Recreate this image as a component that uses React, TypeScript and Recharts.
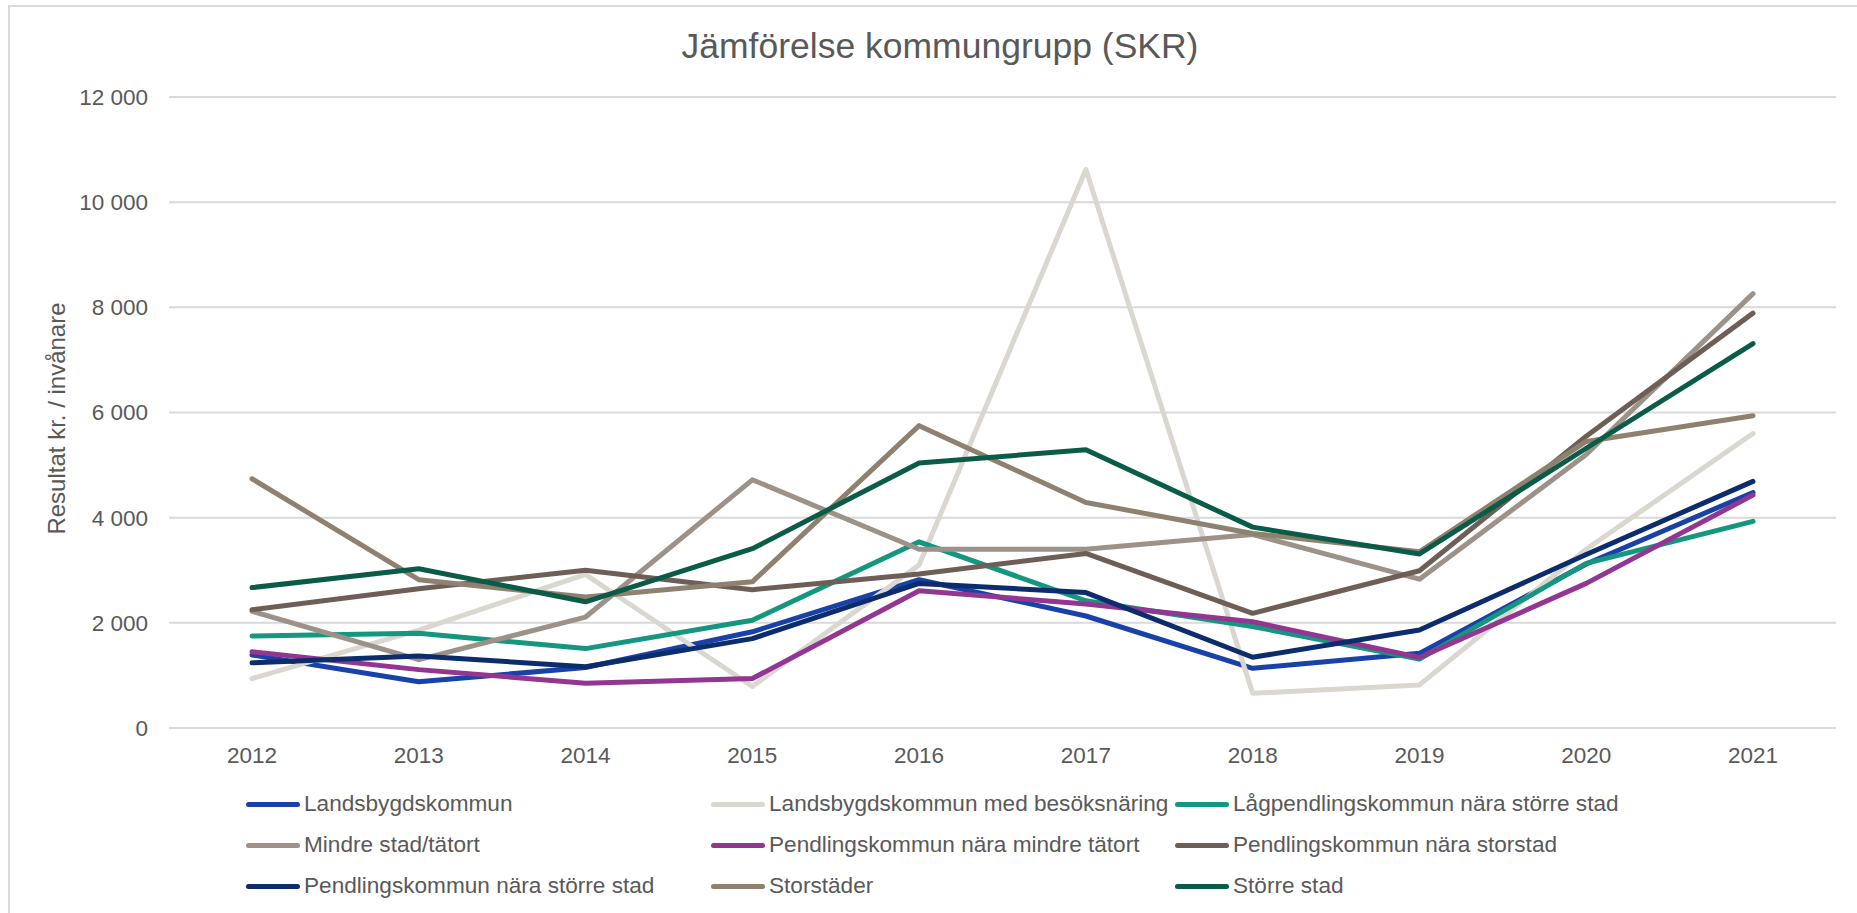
import { LineChart, Line, XAxis, YAxis, CartesianGrid, Legend } from "recharts";

const YEARS = ["2012", "2013", "2014", "2015", "2016", "2017", "2018", "2019", "2020", "2021"];

const LANDSBYGD = [1390, 880, 1150, 1830, 2820, 2130, 1135, 1420, 3120, 4480];
const LANDSBYGD_BESOK = [940, 1860, 2920, 790, 3100, 10620, 660, 820, 3400, 5600];
const LAGPENDLING = [1750, 1800, 1510, 2050, 3540, 2420, 1930, 1310, 3130, 3930];
const MINDRE_STAD = [2220, 1300, 2110, 4720, 3400, 3400, 3680, 2830, 5200, 8260];
const PENDL_MINDRE = [1450, 1110, 850, 940, 2610, 2360, 2020, 1340, 2750, 4430];
const PENDL_STORSTAD = [2250, 2650, 3000, 2630, 2930, 3320, 2180, 2990, 5550, 7890];
const PENDL_STORRE = [1240, 1370, 1165, 1700, 2750, 2575, 1345, 1865, 3300, 4690];
const STORSTADER = [4740, 2820, 2490, 2780, 5750, 4290, 3700, 3350, 5450, 5940];
const STORRE_STAD = [2670, 3030, 2400, 3410, 5040, 5290, 3820, 3310, 5320, 7310];

const Y_TICKS = [0, 2000, 4000, 6000, 8000, 10000, 12000];

const SERIES = [
  { key: "landsbygd", name: "Landsbygdskommun", color: "#1842a8", values: LANDSBYGD },
  { key: "besok", name: "Landsbygdskommun med besöksnäring", color: "#dad6d0", values: LANDSBYGD_BESOK },
  { key: "lagpendling", name: "Lågpendlingskommun nära större stad", color: "#15977f", values: LAGPENDLING },
  { key: "mindre", name: "Mindre stad/tätort", color: "#9c928a", values: MINDRE_STAD },
  { key: "pmindre", name: "Pendlingskommun nära mindre tätort", color: "#923692", values: PENDL_MINDRE },
  { key: "pstorstad", name: "Pendlingskommun nära storstad", color: "#6d5f58", values: PENDL_STORSTAD },
  { key: "pstorre", name: "Pendlingskommun nära större stad", color: "#0c2c6c", values: PENDL_STORRE },
  { key: "storstader", name: "Storstäder", color: "#8e8170", values: STORSTADER },
  { key: "storre", name: "Större stad", color: "#0b5b49", values: STORRE_STAD },
];

const data = YEARS.map((year, i) => {
  const row: Record<string, string | number> = { year };
  SERIES.forEach((s) => (row[s.key] = s.values[i]));
  return row;
});

const fmt = (v: number) => String(v).replace(/\B(?=(\d{3})+(?!\d))/g, " ");

const FONT = '"Liberation Sans", Arial, sans-serif';
const TEXT = "#595959";

const LEGEND_COLS = [246, 711, 1175];
const LEGEND_ROWS = [24, 65, 106];

const LegendBox = () => (
  <div style={{ position: "relative", width: 1857, height: 130, fontFamily: FONT }}>
    {SERIES.map((s, i) => (
      <div
        key={s.key}
        style={{
          position: "absolute",
          left: LEGEND_COLS[i % 3],
          top: LEGEND_ROWS[Math.floor(i / 3)] - 14,
          height: 28,
          display: "flex",
          alignItems: "center",
          whiteSpace: "nowrap",
        }}
      >
        <span style={{ width: 54, height: 5, borderRadius: 3, background: s.color, marginRight: 4 }} />
        <span style={{ fontSize: 22.6, color: TEXT }}>{s.name}</span>
      </div>
    ))}
  </div>
);

export default function App() {
  return (
    <div
      style={{
        position: "absolute",
        left: 0,
        top: 0,
        width: 1857,
        height: 913,
        background: "#fff",
        overflow: "hidden",
        fontFamily: FONT,
      }}
    >
      <div
        style={{
          position: "absolute",
          left: 8,
          top: 5,
          width: 1900,
          height: 1000,
          border: "2px solid #d9d9d9",
        }}
      />
      <div
        style={{
          position: "absolute",
          left: 940,
          top: 29,
          transform: "translateX(-50%)",
          fontSize: 35.5,
          lineHeight: 1,
          color: TEXT,
          whiteSpace: "nowrap",
        }}
      >
        Jämförelse kommungrupp (SKR)
      </div>
      <LineChart
        width={1857}
        height={913}
        data={data}
        margin={{ top: 97, right: 21, left: 0, bottom: 145 }}
      >
        <CartesianGrid vertical={false} stroke="#d9d9d9" strokeWidth={2} />
        <XAxis
          dataKey="year"
          height={40}
          axisLine={false}
          tickLine={false}
          tickMargin={13}
          padding={{ left: 83, right: 83 }}
          tick={{ fontSize: 22.5, fill: TEXT, fontFamily: FONT }}
        />
        <YAxis
          width={169}
          domain={[0, 12000]}
          ticks={Y_TICKS}
          axisLine={false}
          tickLine={false}
          tickMargin={15}
          tickFormatter={fmt}
          tick={{ fontSize: 22.5, fill: TEXT, fontFamily: FONT }}
          label={{
            value: "Resultat kr. / invånare",
            angle: -90,
            position: "insideLeft",
            offset: 56,
            dy: 6,
            style: { textAnchor: "middle", fontSize: 24, fill: TEXT, fontFamily: FONT },
          }}
        />
        {SERIES.map((s) => (
          <Line
            key={s.key}
            dataKey={s.key}
            name={s.name}
            stroke={s.color}
            strokeWidth={5}
            strokeLinecap="round"
            strokeLinejoin="round"
            dot={false}
            activeDot={false}
            isAnimationActive={false}
          />
        ))}
        <Legend
          layout="horizontal"
          verticalAlign="middle"
          align="center"
          wrapperStyle={{ top: 780, left: 0, width: 1857, height: 130 }}
          content={() => <LegendBox />}
        />
      </LineChart>
    </div>
  );
}
